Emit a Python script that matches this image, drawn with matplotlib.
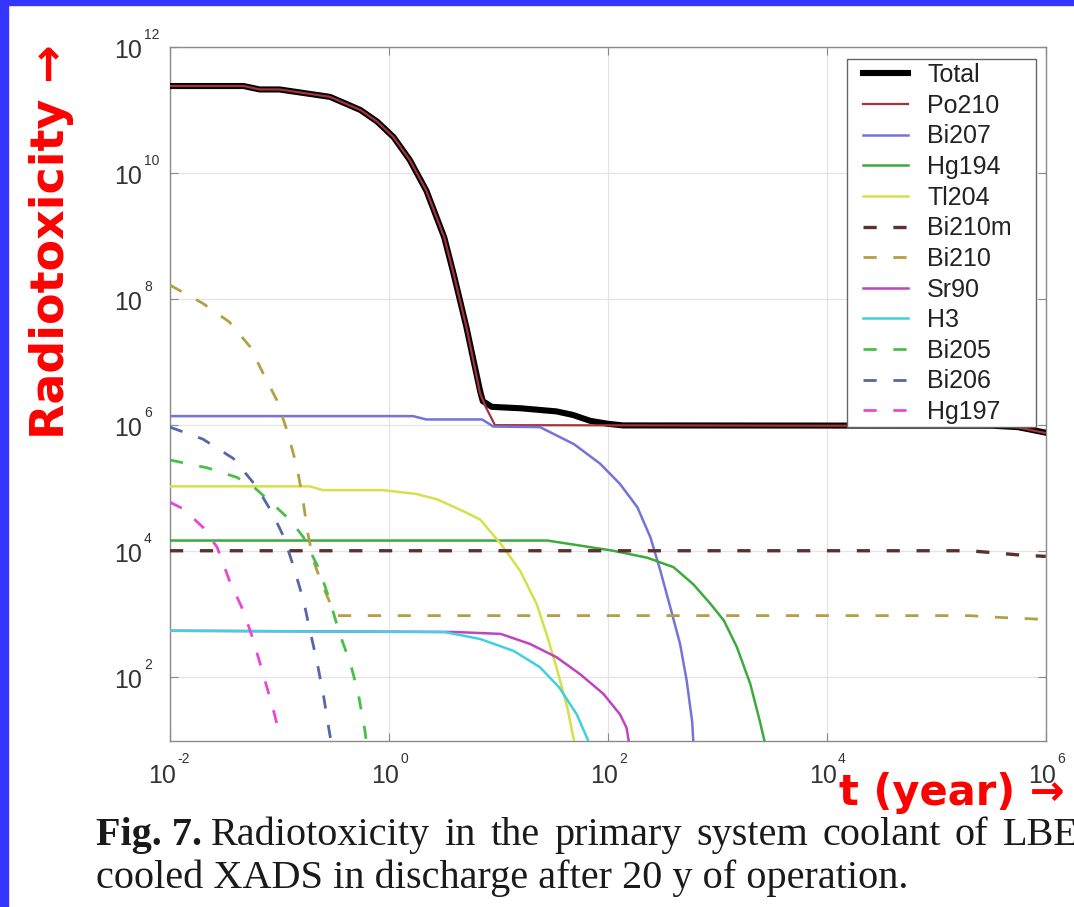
import matplotlib
matplotlib.use("Agg")
import matplotlib.pyplot as plt
import matplotlib.transforms as mtransforms
from matplotlib.patches import Rectangle

# ---------------- data: time after discharge (years) and radiotoxicity ----------------
t_total = [0.01, 0.047, 0.066, 0.10, 0.29, 0.55, 0.78, 1.1, 1.55, 2.2, 3.2, 3.9, 5.1, 6.8,
           7.2, 8.7, 16, 34, 48, 69, 100, 138, 3.2e5, 5.6e5, 1e6]
v_total = [2.38e11, 2.38e11, 2.1e11, 2.1e11, 1.6e11, 9.9e10, 6.5e10, 3.7e10, 1.6e10, 5.2e9,
           9.5e8, 2.5e8, 3.6e7, 3.5e6, 2.4e6, 1.95e6, 1.85e6, 1.65e6, 1.45e6, 1.17e6, 1.05e6,
           9.9e5, 9.8e5, 9.3e5, 7.6e5]

t_po210 = [0.01, 0.047, 0.066, 0.10, 0.29, 0.55, 0.78, 1.1, 1.55, 2.2, 3.2, 3.9, 5.1, 6.8,
           7.6, 9.3, 3.2e5, 5.6e5, 1e6]
v_po210 = [2.38e11, 2.38e11, 2.1e11, 2.1e11, 1.6e11, 9.9e10, 6.5e10, 3.7e10, 1.6e10, 5.2e9,
           9.5e8, 2.5e8, 3.6e7, 3.2e6, 2.0e6, 1.0e6, 9.7e5, 9.2e5, 7.5e5]

t_bi207 = [0.01, 1.66, 2.2, 7.1, 9.0, 24, 49, 85, 129, 186, 245, 302, 372, 457, 525, 589, 603]
v_bi207 = [1.39e6, 1.39e6, 1.23e6, 1.23e6, 9.5e5, 9.3e5, 5.0e5, 2.45e5, 1.17e5, 5.0e4,
           1.66e4, 4.9e3, 1.29e3, 339, 89, 20, 10]

t_hg194 = [0.01, 28, 56, 112, 229, 398, 603, 871, 1150, 1510, 2000, 2450, 2690]
v_hg194 = [1.48e4, 1.48e4, 1.23e4, 1.02e4, 7.9e3, 5.6e3, 3.0e3, 1.45e3, 794, 302, 79, 20, 10]

t_tl204 = [0.01, 0.19, 0.25, 0.89, 1.78, 2.8, 4.8, 6.8, 10.5, 15.8, 22.4, 27.5, 33.9, 42.7, 49]
v_tl204 = [1.07e5, 1.07e5, 9.3e4, 9.3e4, 8.1e4, 6.6e4, 4.3e4, 3.2e4, 1.32e4, 4.9e3, 1.45e3,
           490, 145, 33, 10]

t_bi210m = [0.01, 2.0e5, 3.3e5, 5.9e5, 1e6]
v_bi210m = [1.02e4, 1.02e4, 9.5e3, 8.7e3, 8.3e3]

t_bi210 = [0.01, 0.020, 0.035, 0.054, 0.071, 0.095, 0.117, 0.145, 0.166, 0.182, 0.204, 0.251,
           0.302, 0.331, 2.0e5, 4.0e5, 1e6]
v_bi210 = [1.66e8, 8.5e7, 4.3e7, 1.74e7, 6.6e6, 2.45e6, 8.3e5, 2.14e5, 5.6e4, 1.9e4, 7.1e3,
           2.7e3, 1.29e3, 955, 955, 890, 830]

t_sr90 = [0.01, 4.0, 10.5, 19.5, 34, 56, 91, 129, 148, 155]
v_sr90 = [550, 525, 490, 339, 209, 112, 55, 26, 16, 10]

t_h3 = [0.01, 3.2, 6.8, 13.8, 24, 36, 52, 66]
v_h3 = [550, 525, 407, 263, 145, 69, 26, 10]

t_bi205 = [0.01, 0.022, 0.041, 0.058, 0.087, 0.126, 0.166, 0.19, 0.234, 0.288, 0.355, 0.447,
           0.525, 0.603, 0.62]
v_bi205 = [2.8e5, 2.1e5, 1.48e5, 1.05e5, 5.6e4, 3.1e4, 1.66e4, 1.02e4, 4.9e3, 1.66e3, 490,
           162, 55, 14.5, 10]

t_bi206 = [0.01, 0.020, 0.038, 0.062, 0.087, 0.110, 0.135, 0.166, 0.19, 0.219, 0.251, 0.288,
           0.295]
v_bi206 = [9.3e5, 6.0e5, 2.95e5, 1.05e5, 3.9e4, 1.66e4, 5.6e3, 1.66e3, 550, 186, 55, 12.6, 10]

t_hg197 = [0.01, 0.0132, 0.020, 0.027, 0.035, 0.047, 0.058, 0.071, 0.087, 0.102]
v_hg197 = [6.0e4, 4.7e4, 2.4e4, 1.15e4, 3.4e3, 1.12e3, 380, 112, 33, 11]

x_tick_exponents = [-2, 0, 2, 4, 6]
y_tick_exponents = [2, 4, 6, 8, 10, 12]

caption_line1 = "Radiotoxicity in the primary system coolant of LBE-"
caption_line2 = "cooled XADS in discharge after 20 y of operation."

# ---------------- figure ----------------
W, H, DPI = 1074, 907, 100
plt.rcParams['lines.scale_dashes'] = False
fig = plt.figure(figsize=(W / DPI, H / DPI), dpi=DPI)
fig.patch.set_facecolor('white')

ax_left, ax_right, ax_top, ax_bottom = 170, 1045.7, 46.7, 740.5
ax = fig.add_axes([ax_left / W, 1 - ax_bottom / H,
                   (ax_right - ax_left) / W, (ax_bottom - ax_top) / H])

dash = (0, (9.5, 12))
series = [
    ("Total",  t_total,  v_total,  "#000000", 4.4, "-"),
    ("Po210",  t_po210,  v_po210,  "#a8323c", 1.6, "-"),
    ("Bi207",  t_bi207,  v_bi207,  "#7474d8", 1.8, "-"),
    ("Hg194",  t_hg194,  v_hg194,  "#3caa3c", 1.8, "-"),
    ("Tl204",  t_tl204,  v_tl204,  "#d6e04a", 1.8, "-"),
    ("Bi210m", t_bi210m, v_bi210m, "#5c3030", 2.4, dash),
    ("Bi210",  t_bi210,  v_bi210,  "#b4a044", 2.0, dash),
    ("Sr90",   t_sr90,   v_sr90,   "#c044c0", 1.8, "-"),
    ("H3",     t_h3,     v_h3,     "#40d0e0", 1.8, "-"),
    ("Bi205",  t_bi205,  v_bi205,  "#48c048", 2.0, dash),
    ("Bi206",  t_bi206,  v_bi206,  "#5468a8", 2.0, dash),
    ("Hg197",  t_hg197,  v_hg197,  "#e848d8", 2.0, dash),
]
handles = []
for i, (lab, t, v, col, lw, ls) in enumerate(series):
    ln, = ax.plot(t, v, color=col, lw=lw, linestyle=ls, label=lab, zorder=3 + i * 0.01,
                  solid_joinstyle='round')
    handles.append(ln)

ax.set_xscale('log')
ax.set_yscale('log')
ax.set_xlim(1e-2, 1e6)
ax.set_ylim(1e1, 1e12)
ax.set_xticks([10.0 ** e for e in x_tick_exponents])
ax.set_yticks([10.0 ** e for e in y_tick_exponents])
ax.minorticks_off()
ax.tick_params(which='major', direction='in', length=6, width=0.8, color='#8a8a8a',
               top=True, right=True, labelbottom=False, labelleft=False)
ax.grid(True, color='#e4e4e4', lw=0.9)
ax.set_axisbelow(True)
for sp in ax.spines.values():
    sp.set_color('#8a8a8a')
    sp.set_linewidth(1.0)

# tick labels: "10" with a small raised exponent
label_font = 'Liberation Sans'
base_size, exp_size = 18, 10
tick_col = '#333333'


def shift(dx, dy):
    return mtransforms.ScaledTranslation(dx / DPI, -dy / DPI, fig.dpi_scale_trans)


xtr = mtransforms.blended_transform_factory(ax.transData, ax.transAxes)
for e in x_tick_exponents:
    s = str(e)
    w_exp = 7.5 * len(s)
    split = (28 - w_exp) / 2
    ax.text(10.0 ** e, 0, "10", transform=xtr + shift(split, 42.5), ha='right',
            va='baseline', family=label_font, size=base_size, color=tick_col, clip_on=False)
    ax.text(10.0 ** e, 0, s, transform=xtr + shift(split + 1, 22.5), ha='left',
            va='baseline', family=label_font, size=exp_size, color=tick_col, clip_on=False)

ytr = mtransforms.blended_transform_factory(ax.transAxes, ax.transData)
for e in y_tick_exponents:
    ax.text(0, 10.0 ** e, "10", transform=ytr + shift(-28, 11), ha='right', va='baseline',
            family=label_font, size=base_size, color=tick_col, clip_on=False)
    ax.text(0, 10.0 ** e, str(e), transform=ytr + shift(-26, -8), ha='left', va='baseline',
            family=label_font, size=exp_size, color=tick_col, clip_on=False)

# legend: white box with a grey frame, entries laid out inside it
box_l, box_r, box_t, box_b = 847, 1036, 59, 427
fig.add_artist(Rectangle((box_l / W, 1 - box_b / H), (box_r - box_l) / W, (box_b - box_t) / H,
                         transform=fig.transFigure, facecolor='white', edgecolor='#666666',
                         lw=1.0, zorder=4))
leg = fig.legend(handles, [s[0] for s in series], loc='upper left',
                 bbox_to_anchor=(863 / W, 1 - 63 / H), bbox_transform=fig.transFigure,
                 borderaxespad=0, borderpad=0, frameon=False,
                 prop={'family': label_font, 'size': 18}, handlelength=1.8,
                 handletextpad=0.76, labelspacing=0.266)
leg.set_zorder(5)
for txt in leg.get_texts():
    txt.set_color('#222222')

# axis captions in red
red = '#ff0000'
fig.text(52 / W, 1 - 242 / H, "Radiotoxicity \u2192", rotation=90, ha='center', va='center',
         color=red, weight='bold', size=33, family='DejaVu Sans')
fig.text(839 / W, 1 - 805 / H, "t (year) \u2192", ha='left', va='baseline',
         color=red, weight='bold', size=30, family='DejaVu Sans')

# figure caption, first line justified across the column
cap_font = 'Liberation Serif'
cap_col = '#1a1a1a'
cap_size = 29
y1, y2 = 1 - 845 / H, 1 - 888 / H
t1 = fig.text(96 / W, y1, "Fig. 7.", ha='left', va='baseline', family=cap_font,
              weight='bold', size=cap_size, color=cap_col)
fig.canvas.draw()
renderer = fig.canvas.get_renderer()
start = t1.get_window_extent(renderer).x1 + 9
words = caption_line1.split()
word_texts = [fig.text(0, y1, w, ha='left', va='baseline', family=cap_font, size=cap_size,
                       color=cap_col) for w in words]
widths = [wt.get_window_extent(renderer).width for wt in word_texts]
last_start = 1003
gap = (last_start - start - sum(widths[:-1])) / (len(words) - 1)
x = start
for wt, w in zip(word_texts, widths):
    wt.set_x(x / W)
    x += w + gap
fig.text(96 / W, y2, caption_line2, ha='left', va='baseline', family=cap_font,
         size=cap_size, color=cap_col)

# slide frame on the left and top edges
border = '#3535ff'
fig.add_artist(Rectangle((0, 0), 8 / W, 1, transform=fig.transFigure, color=border, zorder=20))
fig.add_artist(Rectangle((0, 1 - 5 / H), 1, 5 / H, transform=fig.transFigure, color=border,
                         zorder=20))

fig.savefig("out.png", dpi=DPI)
